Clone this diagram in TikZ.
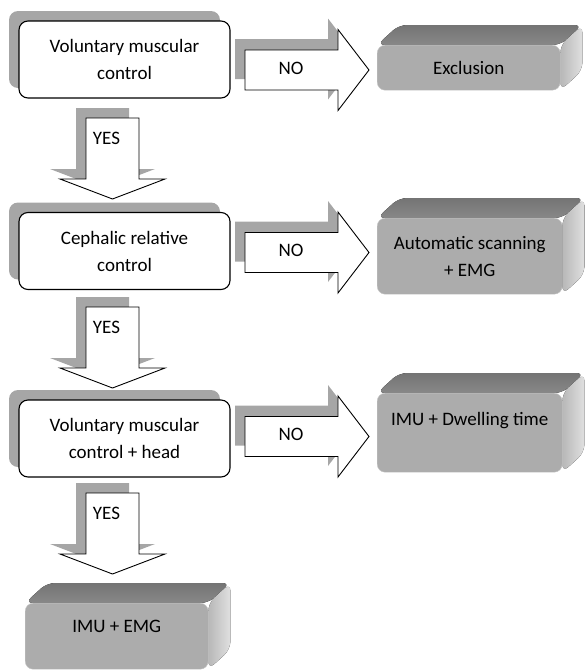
\documentclass[tikz,border=0pt]{standalone}
\usepackage{fontspec}
\setmainfont{Carlito}
\usetikzlibrary{shadows,backgrounds}

\definecolor{shadowgray}{RGB}{166,166,166}
\definecolor{facegray}{RGB}{172,172,172}
\definecolor{topgray}{RGB}{126,126,126}
\definecolor{sidegray}{RGB}{224,224,224}

% outlines of the block arrows, drawn from the arrow's start
\newcommand{\noarrow}{++(0,-20) -- ++(93,0) -- ++(0,-20.5) -- ++(31,40.5) -- ++(-31,40.5) -- ++(0,-20.5) -- ++(-93,0) -- cycle}
\newcommand{\yesarrow}{-- ++(53,0) -- ++(0,61) -- ++(26,0) -- ++(-52.5,20) -- ++(-52.5,-20) -- ++(26,0) -- cycle}

\begin{document}
\begin{tikzpicture}[x=1pt, y=-1pt,
  every node/.style={font=\fontsize{19}{27}\selectfont, inner sep=0pt},
  question/.style={draw, line width=1.1pt, fill=white, rounded corners=9pt,
    minimum width=211pt, minimum height=77pt, align=center,
    drop shadow={shadow xshift=-10pt, shadow yshift=10pt, fill=shadowgray, opacity=1}},
  result/.style={fill=facegray, draw=gray!45, rounded corners=8pt, align=center, anchor=north west},
  blockarrow/.style={draw, line width=0.9pt, fill=white, line join=miter}]
\useasboundingbox (0,0) rectangle (586,670);

% questions
\node[question] (vmc) at (124.5,59.5) {Voluntary muscular\\control};
\node[question] (crc) at (124.5,251) {Cephalic relative\\control};
\node[question] (vmh) at (124.5,438.5) {Voluntary muscular\\control + head};

% outcomes
\node[result, minimum width=183pt, minimum height=45pt] (excl) at (377,45) {Exclusion};
\node[result, minimum width=185pt, minimum height=76pt] (auto) at (377,218) {Automatic scanning\\+ EMG};
\node[result, minimum width=185pt, minimum height=79pt] (dwell) at (377,393) {IMU + Dwelling time\\\mbox{}};
\node[result, minimum width=183pt, minimum height=66pt] (imuemg) at (25,603) {IMU + EMG\\[-7pt]\mbox{}};

% top and side faces of the outcome blocks
\begin{scope}[on background layer]
\foreach \n in {excl,auto,dwell,imuemg} {
  \fill[top color=topgray!92!black, bottom color=topgray!92!white, rounded corners=8pt]
    (\n.north west) -- ++(22,-20) -- ([shift={(22,-20)}]\n.north east) -- (\n.north east) -- cycle;
  \fill[left color=sidegray!82!black, right color=sidegray, rounded corners=8pt]
    (\n.north east) -- ++(22,-20) -- ([shift={(22,-20)}]\n.south east) -- (\n.south east) -- cycle;
}
\end{scope}

% NO arrows
\foreach \y [count=\i] in {70,252.5,436.5} {
  \fill[shadowgray] (235,\y-11) \noarrow;
  \draw[blockarrow] (245,\y) \noarrow;
  \node (no\i) at (291,\y-2) {NO};
}

% YES arrows
\foreach \t [count=\i] in {118,307,493} {
  \fill[shadowgray] (76,\t-10) \yesarrow;
  \draw[blockarrow] (86,\t) \yesarrow;
  \node (yes\i) at (106.5,\t+20) {YES};
}
\end{tikzpicture}
\end{document}
